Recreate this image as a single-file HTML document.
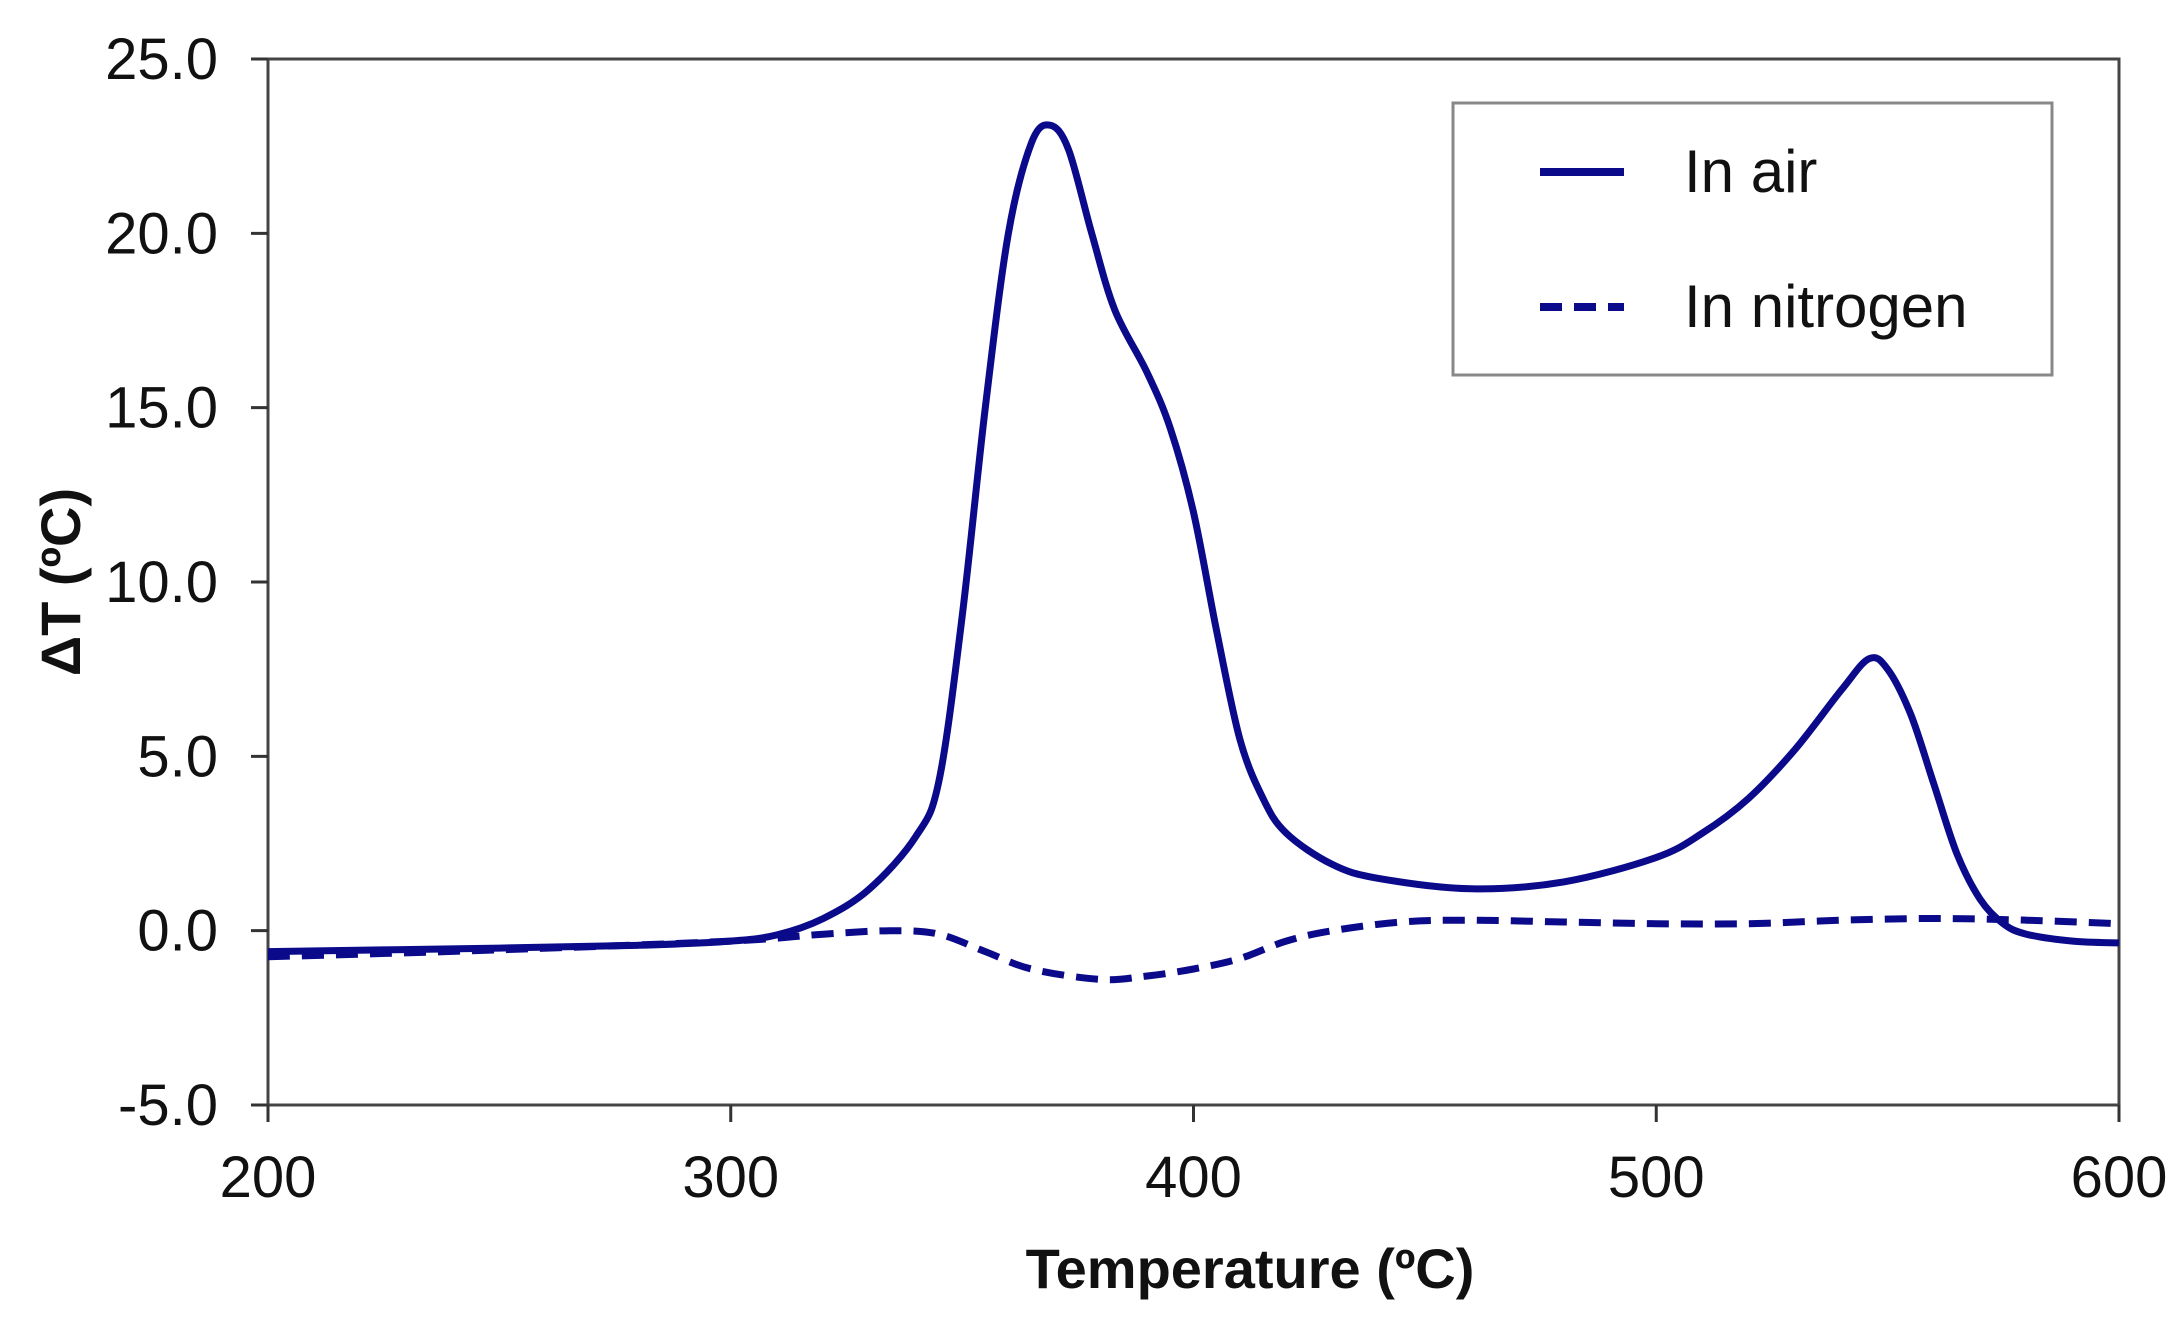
<!DOCTYPE html>
<html><head><meta charset="utf-8"><style>
html,body{margin:0;padding:0;background:#fff}
svg{display:block}
text{font-family:"Liberation Sans",Arial,sans-serif;fill:#111}
</style></head><body>
<svg id="chart" width="2182" height="1320" viewBox="0 0 2182 1320" xmlns="http://www.w3.org/2000/svg">
<g id="axes"></g>
<g id="series"></g>
<g id="legend">
  <rect x="1453" y="103" width="599" height="272" fill="#fff" stroke="#888" stroke-width="3"/>
  <line x1="1540" y1="172" x2="1624" y2="172" stroke="#0a0a8a" stroke-width="8"/>
  <text x="1684" y="192" font-size="60">In air</text>
  <line x1="1540" y1="307" x2="1624" y2="307" stroke="#0a0a8a" stroke-width="8" stroke-dasharray="22,12"/>
  <text x="1684" y="327" font-size="60">In nitrogen</text>
</g>
<text x="1250" y="1288" font-size="56" font-weight="bold" text-anchor="middle">Temperature (ºC)</text>
<text x="0" y="0" font-size="56" font-weight="bold" text-anchor="middle" transform="translate(80,582) rotate(-90)">ΔT (ºC)</text>
</svg>
<script>
const xTicks = [200, 300, 400, 500, 600];
const yTicks = [-5, 0, 5, 10, 15, 20, 25];
const airT = [200,250,280,300,310,320,330,340,345,350,355,360,365,369,373,378,383,390,395,400,405,410,415,420,430,440,460,480,500,510,520,530,540,546,550,555,560,565,570,575,580,590,600];
const airDT = [-0.6,-0.5,-0.42,-0.3,-0.12,0.35,1.2,2.7,4.3,9,15,20,22.6,23.1,22.4,20,17.8,16,14.4,12,8.6,5.5,3.8,2.8,1.9,1.5,1.2,1.4,2.1,2.8,3.8,5.2,6.9,7.8,7.5,6.2,4.2,2.2,0.9,0.2,-0.1,-0.3,-0.35];
const n2T = [200,250,300,320,335,345,355,365,380,390,400,410,420,430,445,460,480,500,520,540,560,580,600];
const n2DT = [-0.75,-0.55,-0.3,-0.1,0.0,-0.1,-0.6,-1.1,-1.4,-1.3,-1.1,-0.8,-0.3,0.0,0.25,0.3,0.25,0.2,0.2,0.3,0.35,0.3,0.2];

const L=268,R=2119,T=59,B=1105;
const xMin=200,xMax=600,yMin=-5,yMax=25;
function sx(v){return L+(v-xMin)/(xMax-xMin)*(R-L);}
function sy(v){return B-(v-yMin)/(yMax-yMin)*(B-T);}
const NS="http://www.w3.org/2000/svg";
const axes=document.getElementById('axes');
function mk(tag,attrs,parent){const e=document.createElementNS(NS,tag);for(const k in attrs)e.setAttribute(k,attrs[k]);parent.appendChild(e);return e;}

const frame=mk('rect',{x:L,y:T,width:R-L,height:B-T,fill:'none',stroke:'#444','stroke-width':3},axes);



xTicks.forEach(v=>{
  const t=mk('line',{x1:sx(v),x2:sx(v),y1:B,y2:B+17,stroke:'#333','stroke-width':3},axes);
  
  
  const l=mk('text',{x:sx(v),y:B+92,'font-size':58,'text-anchor':'middle'},axes);
  l.textContent=String(v);
  
  
});
yTicks.forEach(v=>{
  const t=mk('line',{x1:L-17,x2:L,y1:sy(v),y2:sy(v),stroke:'#333','stroke-width':3},axes);
  
  
  const l=mk('text',{x:218,y:sy(v)+20,'font-size':58,'text-anchor':'end'},axes);
  l.textContent=v.toFixed(1);
  
  
});

function smoothPath(xs,ys){
  const p=xs.map((x,i)=>[sx(x),sy(ys[i])]);
  let d='M'+p[0][0].toFixed(1)+','+p[0][1].toFixed(1);
  for(let i=0;i<p.length-1;i++){
    const p0=p[i-1]||p[i],p1=p[i],p2=p[i+1],p3=p[i+2]||p2;
    const c1=[p1[0]+(p2[0]-p0[0])/6,p1[1]+(p2[1]-p0[1])/6];
    const c2=[p2[0]-(p3[0]-p1[0])/6,p2[1]-(p3[1]-p1[1])/6];
    d+=' C'+c1.map(n=>n.toFixed(1)).join(',')+' '+c2.map(n=>n.toFixed(1)).join(',')+' '+p2[0].toFixed(1)+','+p2[1].toFixed(1);
  }
  return d;
}
const series=document.getElementById('series');
const n2=mk('path',{d:smoothPath(n2T,n2DT),fill:'none',stroke:'#0a0a8a','stroke-width':7,'stroke-dasharray':'22,12','stroke-linejoin':'round'},series);


const air=mk('path',{d:smoothPath(airT,airDT),fill:'none',stroke:'#0a0a8a','stroke-width':7,'stroke-linejoin':'round'},series);


</script>
</body></html>
